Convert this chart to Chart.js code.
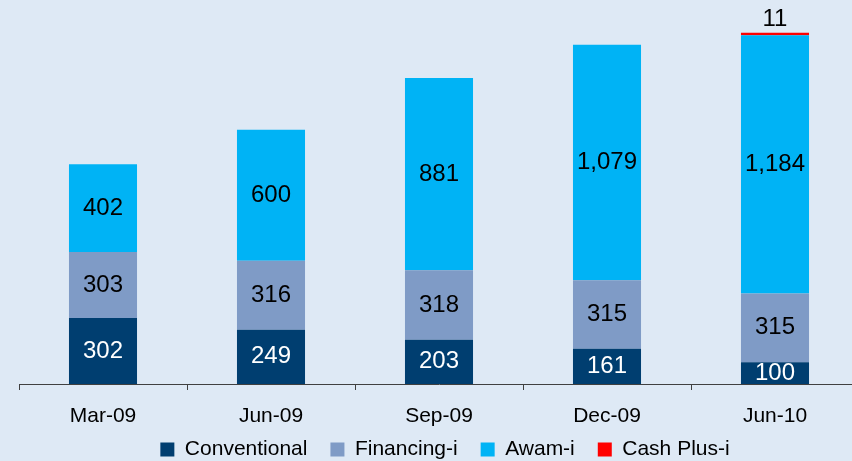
<!DOCTYPE html>
<html>
<head>
<meta charset="utf-8">
<script src="https://cdn.jsdelivr.net/npm/chart.js@4.4.0/dist/chart.umd.min.js"></script>
<style>
  html, body { margin: 0; padding: 0; background: #dee9f5; overflow: hidden; }
  #wrap { position: relative; width: 870px; height: 482px; }
</style>
</head>
<body>
<div id="wrap"><canvas id="myChart"></canvas></div>
<script>
var periodos = ['Mar-09', 'Jun-09', 'Sep-09', 'Dec-09', 'Jun-10'];
var conventional = [302, 249, 203, 161, 100];
var financing = [303, 316, 318, 315, 315];
var awam = [402, 600, 881, 1079, 1184];
var cashPlus = [null, null, null, null, 11];

var fuente = '"Liberation Sans", Arial, sans-serif';

// numeros dentro de cada segmento (el ultimo va encima de la barra)
var etiquetas = {
    id: 'etiquetas',
    afterDatasetsDraw: function(chart){
        var ctx = chart.ctx;
        ctx.save();
        ctx.font = '24px ' + fuente;
        ctx.textAlign = 'center';
        ctx.textBaseline = 'middle';
        chart.data.datasets.forEach(function(ds, i){
            var meta = chart.getDatasetMeta(i);
            meta.data.forEach(function(bar, j){
                var v = ds.data[j];
                if (v === null || v === undefined) return;
                var y = (bar.y + bar.base) / 2;
                if (i === 3) y = bar.y - 13;
                ctx.fillStyle = i === 0 ? '#ffffff' : '#000000';
                ctx.fillText(v.toLocaleString('en-US'), bar.x, y);
            });
        });
        ctx.restore();
    }
};

// acomoda la leyenda: un poco a la derecha y mas pegada al eje
var moverLeyenda = {
    id: 'moverLeyenda',
    afterLayout: function(chart){
        var lg = chart.legend;
        lg.left += 6;
        lg.right += 6;
        lg.top -= 12;
        lg.bottom -= 12;
    }
};

var ctx = document.getElementById('myChart').getContext('2d');
var myChart = new Chart(ctx, {
    type: 'bar',
    data: {
        labels: periodos,
        datasets: [
            { label: 'Conventional', data: conventional, backgroundColor: '#003e70' },
            { label: 'Financing-i', data: financing, backgroundColor: '#7f9bc6' },
            { label: 'Awam-i', data: awam, backgroundColor: '#00b3f5' },
            { label: 'Cash Plus-i', data: cashPlus, backgroundColor: '#ff0000' }
        ]
    },
    options: {
        responsive: true,
        maintainAspectRatio: false,
        animation: false,
        layout: { padding: { left: 19, right: 11, top: 0, bottom: 0 } },
        datasets: {
            bar: { categoryPercentage: 1, barPercentage: 0.405, borderWidth: 0 }
        },
        plugins: {
            tooltip: { enabled: false },
            legend: {
                position: 'bottom',
                labels: {
                    boxWidth: 14,
                    boxHeight: 14,
                    padding: 23,
                    color: '#000',
                    font: { family: fuente, size: 21 }
                }
            }
        },
        scales: {
            x: {
                stacked: true,
                afterFit: function(scale){ scale.height = 44; },
                grid: {
                    offset: true,
                    drawOnChartArea: false,
                    drawTicks: true,
                    tickLength: 6,
                    color: '#404040'
                },
                border: { color: '#404040', width: 1 },
                ticks: {
                    color: '#000',
                    padding: 14,
                    font: { family: fuente, size: 21 }
                }
            },
            y: {
                stacked: true,
                display: false,
                min: 0,
                max: 1760
            }
        }
    },
    plugins: [etiquetas, moverLeyenda]
});
</script>
</body>
</html>
